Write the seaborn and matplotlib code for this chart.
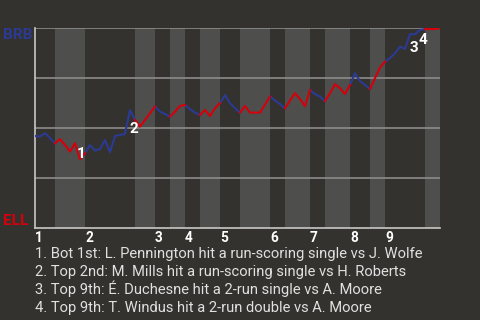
import matplotlib
matplotlib.use("Agg")
import matplotlib.pyplot as plt
import matplotlib.transforms as mtransforms
import numpy as np
import pandas as pd
import seaborn as sns

# ---------------- data ----------------
away_team = "BRB"
home_team = "ELL"
# plays per half-inning (top 1st, bot 1st, top 2nd, ...)
half_plays = [4, 6, 10, 4, 3, 3, 3, 4, 4, 6, 3, 5, 3, 5, 4, 3, 8, 3]
inning_labels = ["1", "2", "3", "4", "5", "6", "7", "8", "9"]
# BRB win probability after each play
win_prob = [0.46, 0.457, 0.474, 0.449, 0.424, 0.444, 0.415, 0.382, 0.424, 0.344,
            0.374, 0.415, 0.387, 0.394, 0.44, 0.379, 0.46, 0.465, 0.47, 0.59,
            0.54, 0.507, 0.54, 0.574, 0.607, 0.582, 0.57, 0.557, 0.582, 0.61,
            0.615, 0.594, 0.577, 0.565, 0.59, 0.56, 0.599, 0.624, 0.665, 0.624,
            0.599, 0.577, 0.61, 0.577, 0.577, 0.577, 0.617, 0.657, 0.637, 0.62,
            0.599, 0.637, 0.674, 0.645, 0.609, 0.69, 0.669, 0.657, 0.635, 0.674,
            0.719, 0.699, 0.67, 0.715, 0.774, 0.735, 0.715, 0.695, 0.749, 0.802,
            0.832, 0.849, 0.874, 0.907, 0.895, 0.969, 0.969, 0.99, 0.994, 0.995,
            0.995, 0.999]
event_play = [9, 19, 75, 77]
event_num = ["1", "2", "3", "4"]
event_text = [
    "Bot 1st: L. Pennington hit a run-scoring single vs J. Wolfe",
    "Top 2nd: M. Mills hit a run-scoring single vs H. Roberts",
    "Top 9th: \u00c9. Duchesne hit a 2-run single vs A. Moore",
    "Top 9th: T. Windus hit a 2-run double vs A. Moore",
]

# ---------------- style ----------------
W, H = 480, 320
bg = "#34322f"
band_light = "#4e4e4c"
blue = "#2b3a92"
red = "#d4000c"
plt.rcParams["font.family"] = ["Roboto", "DejaVu Sans"]

bounds = np.concatenate([[0], np.cumsum(half_plays)])
rows = []
for i in range(len(half_plays)):
    team = away_team if i % 2 == 0 else home_team
    for k in range(bounds[i], bounds[i + 1] + 1):
        rows.append({"play": k, "prob": win_prob[k], "seg": i, "team": team})
df = pd.DataFrame(rows)

fig = plt.figure(figsize=(W / 100, H / 100), dpi=100, facecolor=bg)
ax = fig.add_axes([35 / W, 92 / H, 405 / W, 200 / H])
ax.set_facecolor(bg)

for i in range(len(half_plays)):
    if i % 2 == 1:
        ax.axvspan(bounds[i], bounds[i + 1], color=band_light, lw=0, zorder=0)

for yv in [0.25, 0.5, 0.75, 1.0]:
    ax.axhline(yv, color="#8c8c8a", lw=1.2, zorder=1)

sns.lineplot(data=df, x="play", y="prob", hue="team", units="seg",
             estimator=None, sort=False, palette={away_team: blue, home_team: red},
             legend=False, lw=1.5, ax=ax, zorder=3)

ax.set_xlim(0, bounds[-1])
ax.set_ylim(0, 1)
ax.set_xticks([])
ax.set_yticks([])
ax.set_xlabel("")
ax.set_ylabel("")
for s in ["top", "right"]:
    ax.spines[s].set_visible(False)
for s in ["left", "bottom"]:
    ax.spines[s].set_color("#c8c8c6")
    ax.spines[s].set_linewidth(1.2)

# event markers
offsets = [(1.5, 0.7), (3.5, -23), (3.5, -17.7), (3.0, -14)]
for p, n, off in zip(event_play, event_num, offsets):
    ax.annotate(n, (p, win_prob[p]), xytext=off, textcoords="offset pixels",
                ha="center", va="baseline", color="white", fontsize=11,
                fontweight="bold", zorder=5)

# inning labels
trans = mtransforms.blended_transform_factory(ax.transData, fig.transFigure)
for j, lab in enumerate(inning_labels):
    ax.text(bounds[2 * j], 1 - 241.7 / H, lab, transform=trans, ha="left",
            va="baseline", color="white", fontsize=9.8, fontweight="bold")

fig.text(3 / W, 1 - 39 / H, away_team, color=blue, fontsize=11,
         fontweight="bold", va="baseline", ha="left")
fig.text(3 / W, 1 - 225 / H, home_team, color=red, fontsize=11,
         fontweight="bold", va="baseline", ha="left")

for i, (n, t) in enumerate(zip(event_num, event_text)):
    fig.text(35 / W, 1 - (257.7 + 18 * i) / H, f"{n}. {t}", color="#e0e0e0",
             fontsize=10.6, va="baseline", ha="left")

fig.savefig("out.png", dpi=100, facecolor=bg)
